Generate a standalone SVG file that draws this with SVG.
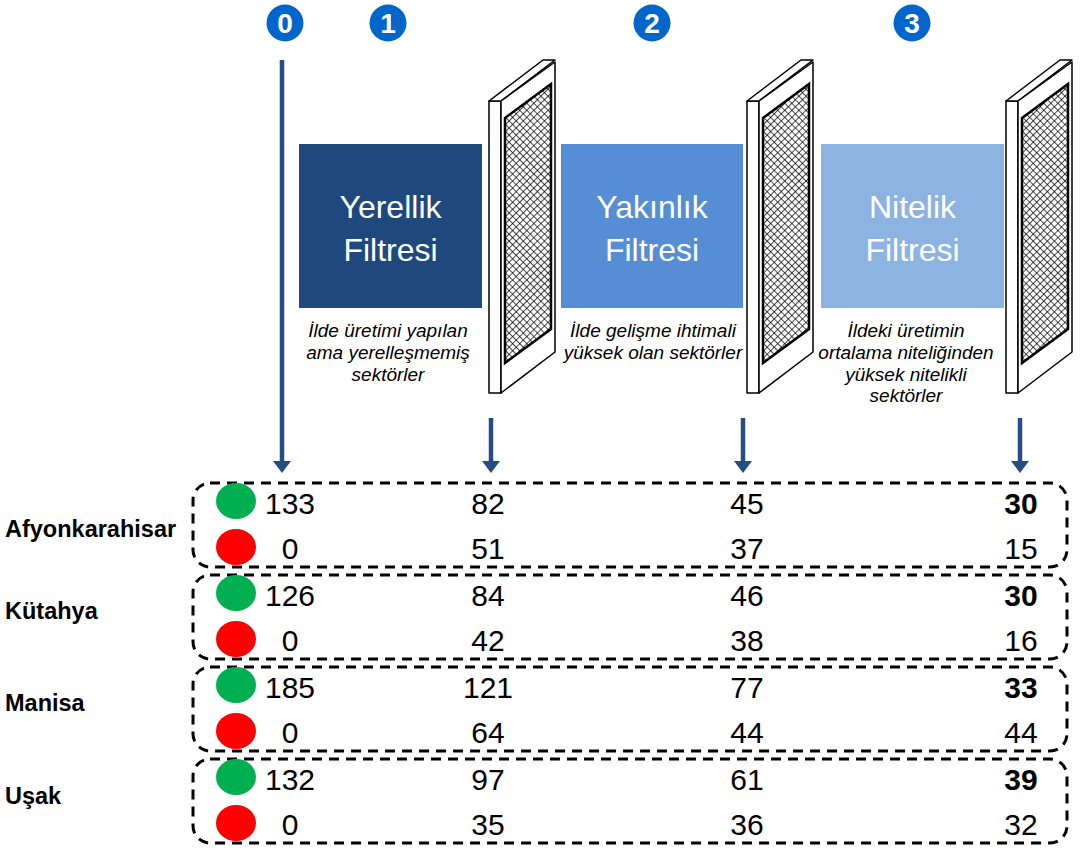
<svg xmlns="http://www.w3.org/2000/svg" width="1084" height="852" viewBox="0 0 1084 852">
<style>
.step{fill:#0066CC}
.stepnum{font-family:"Liberation Sans",Arial,sans-serif;font-weight:bold;font-size:28px;fill:#fff;text-anchor:middle}
.title{font-family:"Liberation Sans",Arial,sans-serif;font-size:32px;fill:#fff;text-anchor:middle}
.desc{font-family:"Liberation Sans",Arial,sans-serif;font-style:italic;font-size:19px;fill:#000;text-anchor:middle}
.num{font-family:"Liberation Sans",Arial,sans-serif;font-size:30px;fill:#000;text-anchor:middle}
.b{font-weight:bold}
.lbl{font-family:"Liberation Sans",Arial,sans-serif;font-weight:bold;font-size:23.5px;fill:#000}
.dash{fill:none;stroke:#000;stroke-width:3;stroke-dasharray:10 7}
.fr{fill:#fff;stroke:#000;stroke-width:1.5;stroke-linejoin:round}
.mesh{fill:url(#hatch);stroke:#000;stroke-width:2.5}
.arr{stroke:#264D82;stroke-width:4.5;fill:none}
.head{fill:#264D82}
.g{fill:#00B050}
.r{fill:#FF0000}
</style>
<defs>
<pattern id="hatch" patternUnits="userSpaceOnUse" width="5" height="5" patternTransform="rotate(45)">
<rect width="5" height="5" fill="#fff"/>
<path d="M0 0.4H5M0.4 0V5" stroke="#000" stroke-width="0.8"/>
</pattern>
<g id="frame">
<polygon class="fr" points="489,101 501,101 501,393 489,393"/>
<polygon class="fr" points="489,101 543,60 555,60 501,101"/>
<polygon class="fr" points="501,101 555,62 555,352 501,393"/>
<polygon class="mesh" points="505,118 551,84 551,329 505,363"/>
</g>
</defs>
<rect width="1084" height="852" fill="#fff"/>

<g id="steps">
<g id="step0"><circle class="step" cx="285" cy="23" r="18.5"/><text class="stepnum" x="285" y="33">0</text></g>
<g id="step1"><circle class="step" cx="388" cy="23" r="18.5"/><text class="stepnum" x="388" y="33">1</text></g>
<g id="step2"><circle class="step" cx="652" cy="23" r="18.5"/><text class="stepnum" x="652" y="33">2</text></g>
<g id="step3"><circle class="step" cx="912" cy="23" r="18.5"/><text class="stepnum" x="912" y="33">3</text></g>
</g>

<g id="filter1">
<rect x="299" y="144" width="183" height="164" fill="#1F497D"/>
<text class="title" x="390.5" y="218">Yerellik</text>
<text class="title" x="390.5" y="261">Filtresi</text>
<text class="desc" x="388" y="337">İlde üretimi yapılan</text>
<text class="desc" x="388" y="359">ama yerelleşmemiş</text>
<text class="desc" x="388" y="381">sektörler</text>
</g>
<g id="filter2">
<rect x="561" y="144" width="182" height="164" fill="#558ED5"/>
<text class="title" x="652" y="218">Yakınlık</text>
<text class="title" x="652" y="261">Filtresi</text>
<text class="desc" x="653" y="337">İlde gelişme ihtimali</text>
<text class="desc" x="653" y="359">yüksek olan sektörler</text>
</g>
<g id="filter3">
<rect x="821" y="144" width="183" height="164" fill="#8DB3E2"/>
<text class="title" x="912.5" y="218">Nitelik</text>
<text class="title" x="912.5" y="261">Filtresi</text>
<text class="desc" x="906" y="337">İldeki üretimin</text>
<text class="desc" x="906" y="359">ortalama niteliğinden</text>
<text class="desc" x="906" y="381">yüksek nitelikli</text>
<text class="desc" x="906" y="402">sektörler</text>
</g>

<g id="screen1"><use href="#frame"/></g>
<g id="screen2"><use href="#frame" transform="translate(258,0)"/></g>
<g id="screen3"><use href="#frame" transform="translate(517,0)"/></g>

<g id="connectors">
<line class="arr" x1="282" y1="60" x2="282" y2="463"/>
<polygon class="head" points="273,461 291,461 282,473"/>
<line class="arr" x1="491" y1="418" x2="491" y2="463"/>
<polygon class="head" points="482,461 500,461 491,473"/>
<line class="arr" x1="743" y1="418" x2="743" y2="463"/>
<polygon class="head" points="734,461 752,461 743,473"/>
<line class="arr" x1="1020" y1="418" x2="1020" y2="463"/>
<polygon class="head" points="1011,461 1029,461 1020,473"/>
</g>

<g id="row-afyon">
<rect class="dash" x="193" y="483" width="874" height="84" rx="17"/>
<ellipse class="g" cx="236" cy="501" rx="20" ry="18"/>
<ellipse class="r" cx="236" cy="547" rx="20" ry="18"/>
<text class="lbl" x="5" y="537">Afyonkarahisar</text>
<text class="num" x="290" y="514">133</text><text class="num" x="488" y="514">82</text><text class="num" x="747" y="514">45</text><text class="num b" x="1021" y="514">30</text>
<text class="num" x="290" y="559">0</text><text class="num" x="488" y="559">51</text><text class="num" x="747" y="559">37</text><text class="num" x="1021" y="559">15</text>
</g>
<g id="row-kutahya">
<rect class="dash" x="193" y="575" width="874" height="84" rx="17"/>
<ellipse class="g" cx="236" cy="593" rx="20" ry="18"/>
<ellipse class="r" cx="236" cy="639" rx="20" ry="18"/>
<text class="lbl" x="5" y="619">Kütahya</text>
<text class="num" x="290" y="606">126</text><text class="num" x="488" y="606">84</text><text class="num" x="747" y="606">46</text><text class="num b" x="1021" y="606">30</text>
<text class="num" x="290" y="651">0</text><text class="num" x="488" y="651">42</text><text class="num" x="747" y="651">38</text><text class="num" x="1021" y="651">16</text>
</g>
<g id="row-manisa">
<rect class="dash" x="193" y="667" width="874" height="84" rx="17"/>
<ellipse class="g" cx="236" cy="685" rx="20" ry="18"/>
<ellipse class="r" cx="236" cy="731" rx="20" ry="18"/>
<text class="lbl" x="5" y="711">Manisa</text>
<text class="num" x="290" y="698">185</text><text class="num" x="488" y="698">121</text><text class="num" x="747" y="698">77</text><text class="num b" x="1021" y="698">33</text>
<text class="num" x="290" y="743">0</text><text class="num" x="488" y="743">64</text><text class="num" x="747" y="743">44</text><text class="num" x="1021" y="743">44</text>
</g>
<g id="row-usak">
<rect class="dash" x="193" y="759" width="874" height="84" rx="17"/>
<ellipse class="g" cx="236" cy="777" rx="20" ry="18"/>
<ellipse class="r" cx="236" cy="823" rx="20" ry="18"/>
<text class="lbl" x="5" y="804">Uşak</text>
<text class="num" x="290" y="790">132</text><text class="num" x="488" y="790">97</text><text class="num" x="747" y="790">61</text><text class="num b" x="1021" y="790">39</text>
<text class="num" x="290" y="835">0</text><text class="num" x="488" y="835">35</text><text class="num" x="747" y="835">36</text><text class="num" x="1021" y="835">32</text>
</g>
</svg>
